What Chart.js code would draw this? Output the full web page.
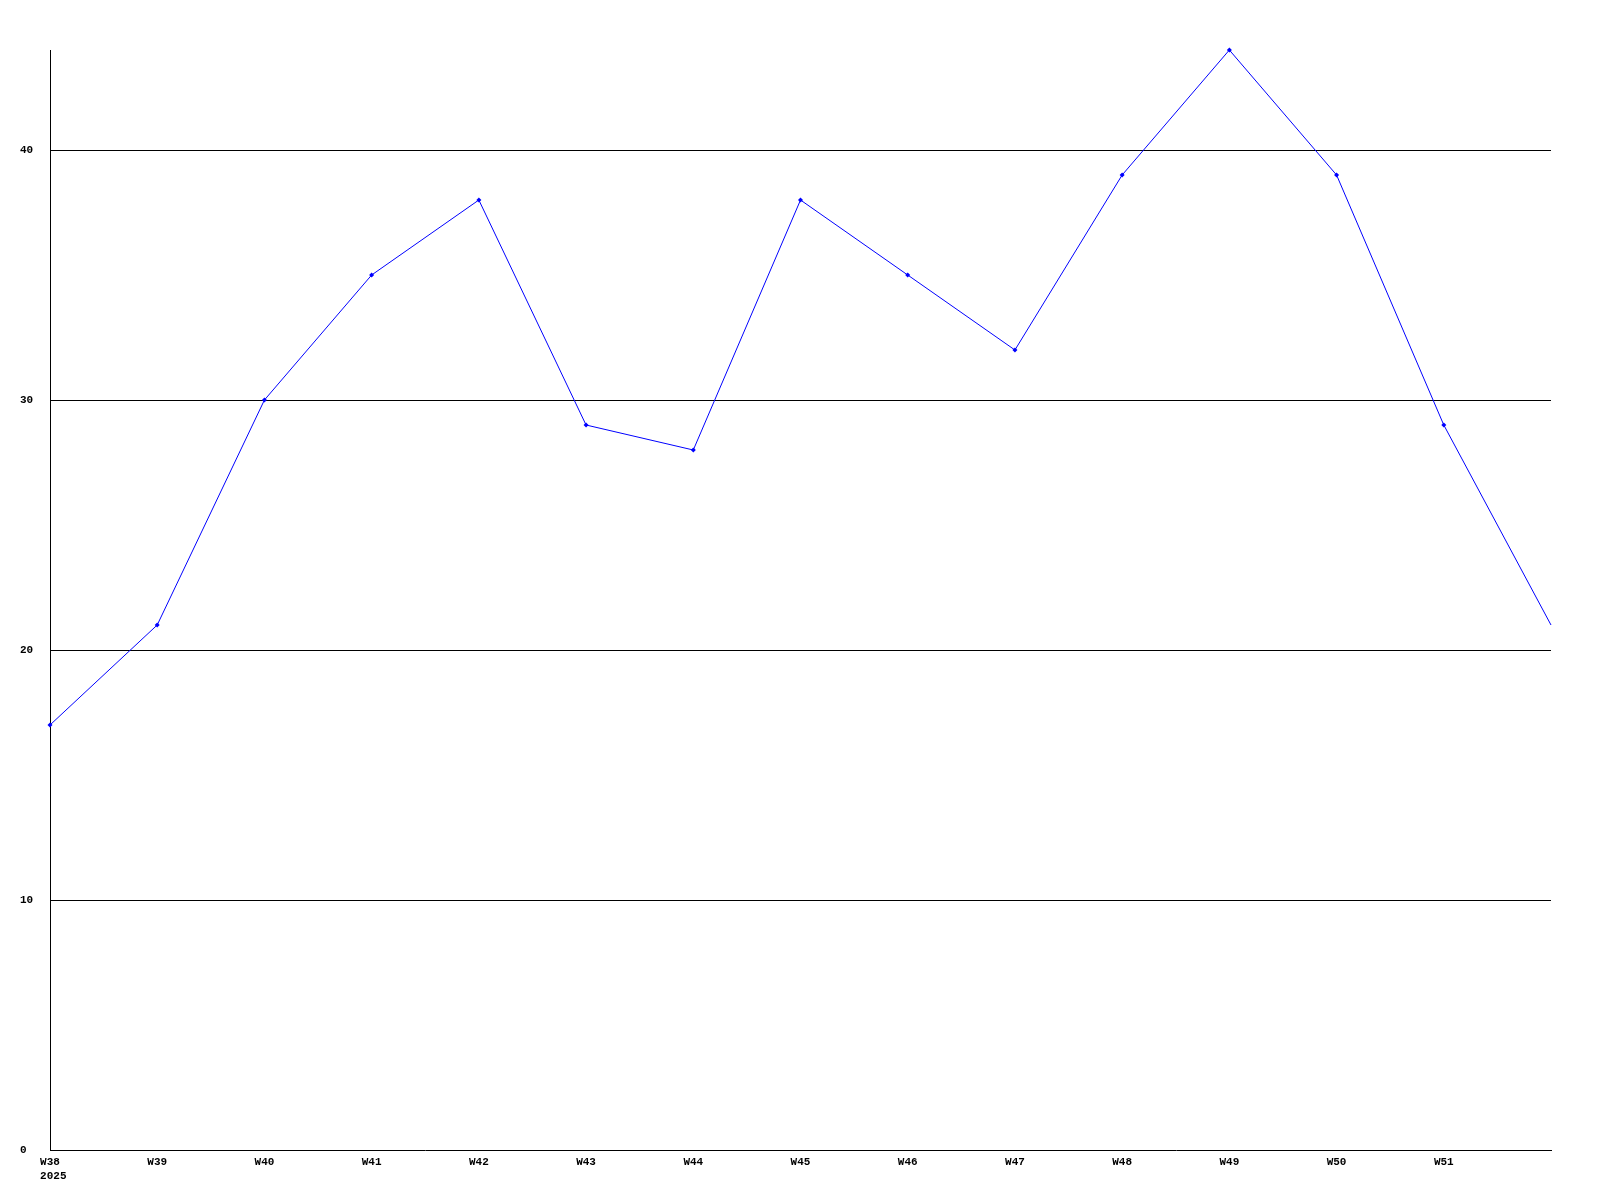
<!DOCTYPE html>
<html lang="en">
<head>
    <script src="https://cdn.jsdelivr.net/npm/chart.js@4/dist/chart.umd.min.js"></script>
    <meta charset="UTF-8">
    <title>Weekly chart</title>
    <style>
        body {
            margin: 0;
            padding: 0;
            background-color: #fff;
        }

        .wrap {
            width: 1600px;
            height: 1200px;
        }
    </style>
</head>
<body>
    <div class="wrap">
        <canvas id="weekChart" width="1600" height="1200"></canvas>
    </div>
    <script>
        // Semanas y valores
        const weeks = ['W38', 'W39', 'W40', 'W41', 'W42', 'W43', 'W44', 'W45', 'W46', 'W47', 'W48', 'W49', 'W50', 'W51', 'W52'];
        const values = [17, 21, 30, 35, 38, 29, 28, 38, 35, 32, 39, 44, 39, 29, 21];
        const yearLabel = '2025';
        const yTicks = [0, 10, 20, 30, 40];

        const tickFont = { family: 'Liberation Mono', size: 11, weight: 'bold' };
        const lastIndex = weeks.length - 1;

        const ctx = document.getElementById('weekChart').getContext('2d');

        const weekChart = new Chart(ctx, {
            type: 'line',
            data: {
                labels: weeks,
                datasets: [{
                    data: values,
                    borderColor: '#0000ff',
                    backgroundColor: '#0000ff',
                    borderWidth: 1,
                    fill: false,
                    tension: 0,
                    pointStyle: 'rectRot',
                    // el último punto no lleva marcador
                    pointRadius: c => c.dataIndex === lastIndex ? 0 : 2.5,
                    pointBorderWidth: 0,
                    clip: false
                }]
            },
            options: {
                responsive: false,
                animation: false,
                layout: {
                    padding: { left: 20, right: 49, top: 50, bottom: 0 }
                },
                plugins: {
                    legend: { display: false },
                    tooltip: { enabled: false }
                },
                scales: {
                    x: {
                        offset: false,
                        grid: { display: false, drawTicks: false },
                        border: { display: true, color: '#000', width: 1 },
                        ticks: {
                            color: '#000',
                            font: tickFont,
                            padding: 6,
                            autoSkip: false,
                            maxRotation: 0,
                            minRotation: 0,
                            callback: function (value, index) {
                                if (index === lastIndex) return '';
                                if (index === 0) return [weeks[0], ' ' + yearLabel];
                                return weeks[index];
                            }
                        },
                        afterFit: function (scale) {
                            scale.height = 50;
                        }
                    },
                    y: {
                        min: 0,
                        max: 44,
                        grid: {
                            color: '#000',
                            lineWidth: function (c) { return c.tick && c.tick.value === 0 ? 0 : 1; },
                            drawTicks: false
                        },
                        border: { display: true, color: '#000', width: 1 },
                        ticks: {
                            stepSize: 10,
                            color: '#000',
                            font: tickFont,
                            crossAlign: 'far',
                            padding: 0
                        },
                        afterBuildTicks: function (scale) {
                            scale.ticks = yTicks.map(v => ({ value: v }));
                        },
                        afterFit: function (scale) {
                            scale.width = 30;
                        }
                    }
                }
            }
        });
    </script>
</body>
</html>
